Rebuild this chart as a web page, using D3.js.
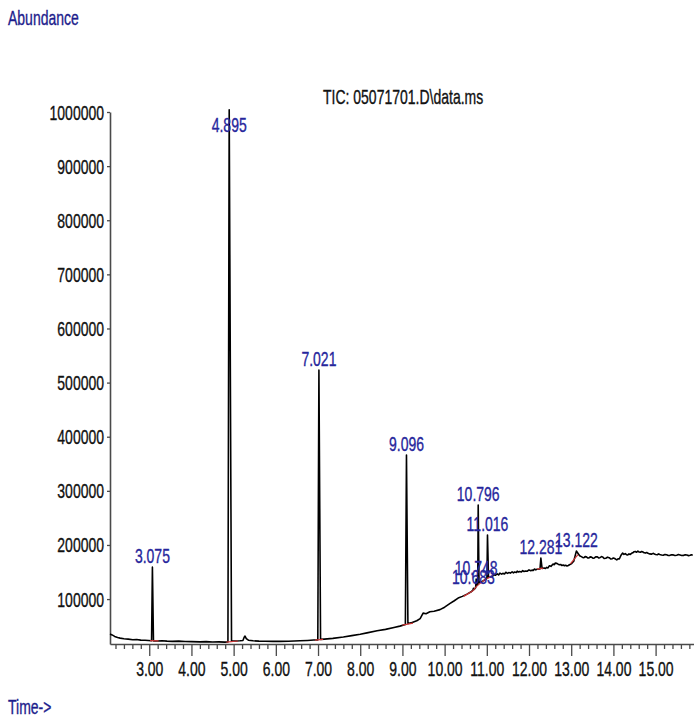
<!DOCTYPE html>
<html>
<head>
<meta charset="utf-8">
<script src="https://cdn.jsdelivr.net/npm/d3@7"></script>
<style>
  html, body { margin: 0; padding: 0; background: #fff; }
  svg { display: block; }
</style>
</head>
<body>
<svg id="chart" width="694" height="720"></svg>
<script>
// ---- Axis ticks -------------------------------------------------------
const xTickValues = [3, 4, 5, 6, 7, 8, 9, 10, 11, 12, 13, 14, 15];
const xTickLabels = ["3.00", "4.00", "5.00", "6.00", "7.00", "8.00", "9.00",
                     "10.00", "11.00", "12.00", "13.00", "14.00", "15.00"];
const xMinorTicks = [2.2, 2.4, 2.6, 2.8, 3.2, 3.4, 3.6, 3.8, 4.2, 4.4, 4.6, 4.8,
                     5.2, 5.4, 5.6, 5.8, 6.2, 6.4, 6.6, 6.8, 7.2, 7.4, 7.6, 7.8,
                     8.2, 8.4, 8.6, 8.8, 9.2, 9.4, 9.6, 9.8, 10.2, 10.4, 10.6, 10.8,
                     11.2, 11.4, 11.6, 11.8, 12.2, 12.4, 12.6, 12.8, 13.2, 13.4, 13.6, 13.8,
                     14.2, 14.4, 14.6, 14.8, 15.2, 15.4, 15.6, 15.8];
const yTickValues = [100000, 200000, 300000, 400000, 500000, 600000, 700000, 800000, 900000, 1000000];
const yTickLabels = ["100000", "200000", "300000", "400000", "500000",
                     "600000", "700000", "800000", "900000", "1000000"];

// ---- Integrated peaks (retention time, apex abundance) -----------------
const peakRT     = [3.075, 4.895, 7.021, 9.096, 10.683, 10.748, 10.796, 11.016, 12.281, 13.122];
const peakApex   = [159000, 1004000, 523000, 366000, 120000, 137000, 273700, 218300, 175800, 188700];
const peakLabels = ["3.075", "4.895", "7.021", "9.096", "10.683", "10.748", "10.796", "11.016", "12.281", "13.122"];
// foot of each peak on the rising / falling side [time, abundance]
const peakFootL  = [[3.055, 22900], [4.865, 20600], [6.995, 24500], [9.07, 53000], [10.672, 116500],
                    [10.735, 121000], [10.785, 127000], [11.003, 138500], [12.26, 155500], [13.06, 170000]];
const peakFootR  = [[3.10, 22800], [4.95, 22500], [7.06, 25500], [9.13, 55000], [10.70, 118000],
                    [10.765, 125000], [10.815, 130000], [11.04, 140000], [12.31, 156500], [13.20, 180000]];
// integration baselines [t0, v0, t1, v1]
const integrationLines = [[3.02, 23200, 3.22, 22700], [4.83, 20600, 5.10, 22500], [6.93, 24000, 7.12, 25500],
                          [9.00, 51900, 9.25, 55500], [10.45, 105000, 10.68, 116000], [10.68, 116000, 10.76, 124000],
                          [10.76, 124000, 10.95, 136000], [10.95, 136000, 11.14, 143000],
                          [12.19, 155400, 12.34, 157300], [12.98, 165000, 13.16, 182000]];

// ---- Total ion current between peaks [time, abundance] -----------------
const baseline = [
  [2.07, 35300], [2.12, 33800], [2.18, 31000], [2.25, 29000], [2.31, 27900], [2.40, 26800], [2.50, 26000],
  [2.61, 24800], [2.70, 25300], [2.80, 24200], [2.90, 23800], [2.98, 23400],
  [3.20, 22600], [3.30, 22900], [3.42, 22300], [3.55, 21900], [3.70, 22400], [3.85, 21600], [4.00, 21300],
  [4.20, 20900], [4.35, 21300], [4.50, 20700], [4.65, 20900], [4.79, 20500],
  [5.05, 22600], [5.15, 22900], [5.22, 23600], [5.25, 29500], [5.27, 31600], [5.30, 27000], [5.35, 24000],
  [5.46, 22900], [5.60, 22300], [5.75, 22000], [5.93, 21800], [6.10, 21900], [6.30, 22200], [6.57, 22900],
  [6.75, 23600], [6.90, 24300],
  [7.15, 26000], [7.35, 27400], [7.60, 30000], [7.80, 32500], [8.00, 35000], [8.16, 37500], [8.40, 41500],
  [8.60, 44000], [8.80, 47500], [8.94, 50000],
  [9.20, 56000], [9.34, 60000], [9.42, 64000], [9.49, 74000], [9.56, 73000], [9.65, 76500], [9.75, 77500],
  [9.89, 80500], [10.00, 85000], [10.13, 92000], [10.22, 96500], [10.32, 101800], [10.42, 105000],
  [10.53, 109200], [10.62, 113000],
  [10.87, 131500], [10.93, 134500], [11.08, 141000], [11.14, 142500], [11.17, 145500], [11.20, 144000],
  [11.25, 146500], [11.28, 144500], [11.31, 148000], [11.35, 146000], [11.38, 147500], [11.42, 146500],
  [11.45, 149500], [11.49, 147500], [11.52, 149000], [11.56, 148000], [11.60, 150500], [11.63, 148500],
  [11.66, 150000], [11.70, 149000], [11.72, 151500], [11.75, 150000], [11.78, 151000], [11.82, 150000],
  [11.85, 152500], [11.88, 151000], [11.92, 152000], [11.96, 151500], [12.00, 154000], [12.04, 152500],
  [12.07, 153500], [12.10, 153000], [12.13, 155500], [12.16, 154000], [12.19, 155000],
  [12.36, 157500], [12.39, 156500], [12.42, 158500], [12.45, 157500], [12.48, 161500], [12.52, 160500],
  [12.57, 164700], [12.60, 163500], [12.62, 166500], [12.66, 166000], [12.69, 164500], [12.72, 163500],
  [12.75, 164000], [12.78, 162000], [12.81, 163000], [12.84, 161500], [12.87, 162500], [12.90, 161000],
  [12.93, 162000], [12.96, 163500], [13.00, 165000], [13.02, 166500],
  [13.24, 178500], [13.27, 177000], [13.30, 176500], [13.33, 178500], [13.36, 178000], [13.39, 176000],
  [13.42, 176000], [13.45, 178000], [13.48, 177500], [13.52, 175500], [13.55, 176000], [13.58, 178000],
  [13.62, 178000], [13.65, 176000], [13.68, 176500], [13.72, 178500], [13.75, 177500], [13.78, 175000],
  [13.82, 175500], [13.86, 177500], [13.90, 176500], [13.94, 174000], [13.97, 174500], [14.00, 176000],
  [14.03, 175000], [14.06, 173500], [14.08, 172500], [14.11, 174500], [14.14, 174000], [14.18, 181000],
  [14.22, 185000], [14.25, 182500], [14.28, 184000], [14.31, 182000], [14.34, 181500], [14.37, 183500],
  [14.40, 182500], [14.43, 184500], [14.46, 185500], [14.49, 187500], [14.52, 188000], [14.55, 186500],
  [14.58, 188700], [14.61, 187000], [14.64, 186500], [14.67, 188000], [14.70, 187000], [14.73, 185500],
  [14.76, 185000], [14.79, 186000], [14.82, 184500], [14.86, 183500], [14.90, 183000], [14.94, 184500],
  [14.97, 183500], [15.00, 182500], [15.04, 182000], [15.07, 183500], [15.10, 182500], [15.14, 181500],
  [15.18, 181000], [15.22, 182500], [15.26, 181800], [15.30, 180500], [15.34, 180800], [15.38, 182000],
  [15.42, 181600], [15.46, 180400], [15.50, 181000], [15.54, 182200], [15.58, 181400], [15.62, 180500],
  [15.66, 180700], [15.70, 182000], [15.74, 181300], [15.78, 180300], [15.82, 180900], [15.85, 182000],
  [15.88, 181200]
];

// ---- Layout -----------------------------------------------------------
const FONT = "'Liberation Sans', Arial, sans-serif";
const FS = 20;                // report font size
const SX = 0.7;               // horizontal squeeze of the narrow report font
const tMin = 2.07, tMax = 15.91;
const vMin = 17000, vMax = 1000000;

const svg = d3.select("#chart");
const x = d3.scaleLinear().domain([tMin, tMax]).range([110, 694]);
const y = d3.scaleLinear().domain([vMin, vMax]).range([644, 112]);

function narrowText(parent, px, py, str, anchor, color) {
  return parent.append("text")
    .attr("transform", `translate(${px},${py}) scale(${SX},1)`)
    .attr("text-anchor", anchor)
    .attr("font-family", FONT)
    .attr("font-size", FS)
    .attr("fill", color)
    .attr("stroke", color)
    .attr("stroke-width", 0.35)
    .text(str);
}

// Header texts
narrowText(svg, 8, 25, "Abundance", "start", "#1c1c8c");
narrowText(svg, 8, 714, "Time->", "start", "#1c1c8c");
narrowText(svg, 323, 104, "TIC: 05071701.D\\data.ms", "start", "#111");

// X axis: minor ticks then major ticks with labels
const xMinorAxis = d3.axisBottom(x).tickValues(xMinorTicks).tickSize(5).tickSizeOuter(0).tickFormat("");
const xMajorAxis = d3.axisBottom(x).tickValues(xTickValues).tickSize(12).tickSizeOuter(0)
  .tickFormat((d, i) => xTickLabels[i]);

svg.append("g").attr("transform", "translate(0,644)").call(xMinorAxis)
  .call(g => g.select(".domain").remove());
const gx = svg.append("g").attr("transform", "translate(0,644)").call(xMajorAxis);
gx.select(".domain").attr("stroke", "#4a4a4a").attr("stroke-width", 1.6);
svg.selectAll(".tick line").attr("stroke", "#4a4a4a").attr("stroke-width", 1.3);
gx.selectAll(".tick text")
  .attr("font-family", FONT).attr("font-size", FS).attr("fill", "#111")
  .attr("stroke", "#111").attr("stroke-width", 0.35)
  .attr("y", 18).attr("dy", "0.71em")
  .attr("transform", `scale(${SX},1)`);

// Y axis
const yAxis = d3.axisLeft(y).tickValues(yTickValues).tickSize(3).tickSizeOuter(0)
  .tickFormat((d, i) => yTickLabels[i]);
const gy = svg.append("g").attr("transform", "translate(110,0)").call(yAxis);
gy.select(".domain").attr("stroke", "#4a4a4a").attr("stroke-width", 1.6);
gy.selectAll(".tick line").attr("stroke", "#4a4a4a").attr("stroke-width", 1.3);
gy.selectAll(".tick text")
  .attr("font-family", FONT).attr("font-size", FS).attr("fill", "#111")
  .attr("stroke", "#111").attr("stroke-width", 0.35)
  .attr("x", -6 / SX).attr("dy", "0.35em")
  .attr("transform", `scale(${SX},1)`);

// Chromatogram trace: baseline plus each peak's feet and apex
const trace = baseline.concat(
  peakFootL,
  peakRT.map((t, i) => [t, peakApex[i]]),
  peakFootR
).sort((a, b) => a[0] - b[0]);

const line = d3.line().x(d => x(d[0])).y(d => y(d[1]));
svg.append("path")
  .datum(trace)
  .attr("d", line)
  .attr("fill", "none")
  .attr("stroke", "#000")
  .attr("stroke-width", 1.6)
  .attr("stroke-linejoin", "round");

// Integration baselines
svg.append("g").selectAll("line")
  .data(integrationLines)
  .join("line")
  .attr("x1", d => x(d[0])).attr("y1", d => y(d[1]))
  .attr("x2", d => x(d[2])).attr("y2", d => y(d[3]))
  .attr("stroke", "#cc3333").attr("stroke-width", 1.2);

// Retention-time labels above each peak
const gLabels = svg.append("g");
peakRT.forEach((t, i) => {
  const py = Math.max(y(peakApex[i]) - 4, 132);
  narrowText(gLabels, x(t), py, peakLabels[i], "middle", "#26269c");
});
</script>
</body>
</html>
